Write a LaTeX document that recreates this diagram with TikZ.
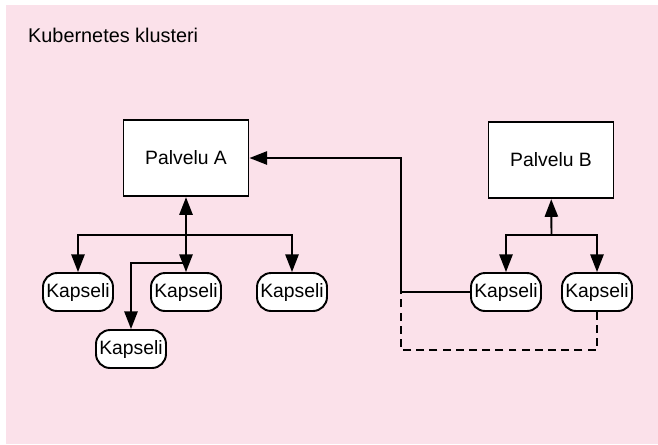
\documentclass[tikz,border=0pt]{standalone}
\usepackage{fontspec}
\setmainfont{Liberation Sans}
\usepackage{xcolor}
\usetikzlibrary{arrows.meta,positioning}

\definecolor{klusterpink}{RGB}{251,225,234}

\begin{document}
\begin{tikzpicture}[
  x=0.02cm, y=-0.02cm,
  palvelu/.style={draw, fill=white, line width=1.1pt, minimum width=2.5cm,
    minimum height=1.53cm, font=\fontsize{11}{13}\selectfont},
  kapseli/.style={draw, fill=white, line width=1.1pt, rounded corners=8pt,
    minimum width=1.4cm, minimum height=0.76cm, inner sep=0pt,
    font=\fontsize{11}{13}\selectfont},
  arr/.style={-{Triangle[length=10pt, width=7.5pt]}, line width=1.1pt},
  arrboth/.style={{Triangle[length=10pt, width=7.5pt]}-{Triangle[length=10pt, width=7.5pt]}, line width=1.1pt},
]
  \useasboundingbox (0,0) rectangle (658,444);
  \fill[klusterpink] (6,5) rectangle (658,444);

  \node[anchor=west, font=\fontsize{11.3}{13}\selectfont] (title) at (22,35) {Kubernetes klusteri};

  % palvelut
  \node[palvelu] (pa) at (186,158) {Palvelu A};
  \node[palvelu] (pb) at (551,160) {Palvelu B};

  % kapselit
  \node[kapseli] (k1) at (78,292)  {Kapseli};
  \node[kapseli] (k2) at (186,292) {Kapseli};
  \node[kapseli] (k3) at (292,292) {Kapseli};
  \node[kapseli] (k4) at (131,349) {Kapseli};
  \node[kapseli] (k5) at (506,292) {Kapseli};
  \node[kapseli] (k6) at (597,292) {Kapseli};

  \coordinate (busA) at (186,235);
  \coordinate (haara) at (186,263);
  \coordinate (busB) at (551.5,235);
  \coordinate (kulma) at (401,158);
  \coordinate (katko) at (401,350);

  \draw[arrboth] (pa) -- (k2);
  \draw[arr] (busA) -| (k1.north);
  \draw[arr] (busA) -| (k3.north);
  \draw[arr] (haara) -| (k4.north);

  \draw[arr] (busB) -- (pb);
  \draw[arr] (busB) -| (k5.north);
  \draw[arr] (busB) -| (k6.north);

  \draw[arr] (k5.west) -| (kulma) -- (pa.east);
  \draw[line width=1.1pt, dash pattern=on 4.5pt off 3pt]
    (k6.south) |- (katko) -- (katko |- k5.west);
\end{tikzpicture}
\end{document}
